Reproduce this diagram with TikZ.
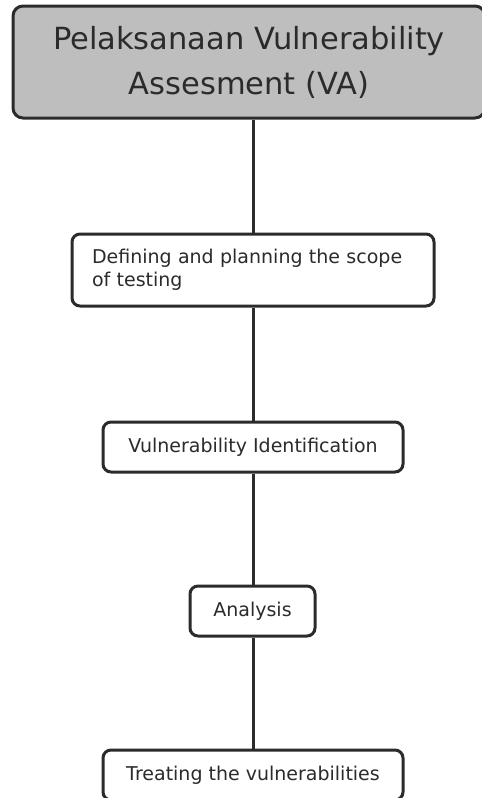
\documentclass[tikz,border=0pt]{standalone}
\usepackage{fontspec}
\setmainfont{DejaVu Sans}
\usepackage{tikz}
\usetikzlibrary{positioning, calc}

\definecolor{headgray}{HTML}{BEBEBE}
\definecolor{inkgray}{HTML}{2B2B2B}

\begin{document}
\begin{tikzpicture}[x=1pt,y=-1pt,
    stagebox/.style={draw=inkgray, line width=3pt, rounded corners=8pt, fill=white,
        text=inkgray, font=\fontsize{19}{23}\selectfont, inner sep=0pt},
    headbox/.style={draw=inkgray, line width=3pt, rounded corners=10pt, fill=headgray,
        text=inkgray, font=\fontsize{30.5}{45}\selectfont, align=center, inner sep=0pt},
    link/.style={draw=inkgray, line width=3pt}]

            % Page frame
            \useasboundingbox (0,0) rectangle (482,798);

            % Title box
            \node[headbox, minimum width=472pt, minimum height=112pt] (head) at (249,62)
                {Pelaksanaan Vulnerability\\Assesment (VA)};

            % Stages
            \node[stagebox, minimum width=362pt, minimum height=72pt,
                text width=322pt, align=left] (scope) at (253,270)
                {Defining and planning the scope\\of testing};
            \node[stagebox, minimum width=300pt, minimum height=50pt] (ident) at (253,447)
                {Vulnerability Identification};
            \node[stagebox, minimum width=125pt, minimum height=50pt] (anal) at (252.5,611)
                {Analysis};
            \node[stagebox, minimum width=300pt, minimum height=50pt] (treat) at (253,775)
                {Treating the vulnerabilities};

            % Connectors
            \draw[link] (head.south -| scope.north) -- (scope.north);
            \draw[link] (scope.south) -- (ident.north);
            \draw[link] (ident.south) -- (ident.south |- anal.north);
            \draw[link] (ident.south |- anal.south) -- (ident.south |- treat.north);

        \end{tikzpicture}
\end{document}
